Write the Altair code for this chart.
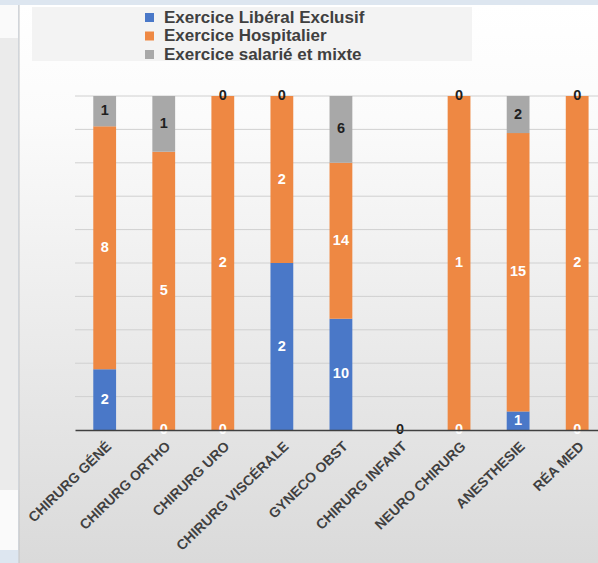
import altair as alt
import pandas as pd

# Spécialités et effectifs par mode d'exercice
specialites = ["CHIRURG GÉNÉ", "CHIRURG ORTHO", "CHIRURG URO", "CHIRURG VISCÉRALE",
               "GYNECO OBST", "CHIRURG INFANT", "NEURO CHIRURG", "ANESTHESIE", "RÉA MED"]
series = ["Exercice Libéral Exclusif", "Exercice Hospitalier", "Exercice salarié et mixte"]
liberal = [2, 0, 0, 2, 10, 0, 0, 1, 0]
hospitalier = [8, 5, 2, 2, 14, 0, 1, 15, 2]
salarie = [1, 1, 0, 0, 6, 0, 0, 2, 0]
couleurs = ["#4a78c8", "#ee8843", "#a8a8a8"]
couleurs_texte = ["#ffffff", "#ffffff", "#1f1f1f"]
graduations = [0.1, 0.2, 0.3, 0.4, 0.5, 0.6, 0.7, 0.8, 0.9, 1.0]

# Empilement à 100 % calculé par spécialité
lignes = []
for i, spec in enumerate(specialites):
    vals = [liberal[i], hospitalier[i], salarie[i]]
    total = sum(vals)
    base = 0.0
    for k, (s, v) in enumerate(zip(series, vals)):
        part = v / total if total else 0.0
        lignes.append(dict(spec=spec, serie=s, valeur=v, y0=base, y1=base + part,
                           mid=base + part / 2, tc=couleurs_texte[k]))
        base += part
df = pd.DataFrame(lignes)
grille = pd.DataFrame({"g": graduations})
un = pd.DataFrame({"k": [0]})

W, H = 523, 334
FONT = "Liberation Sans"

x_enc = alt.X(
    "spec:N", sort=specialites,
    scale=alt.Scale(domain=specialites, paddingInner=0.614, paddingOuter=0.2345, align=0.66),
    axis=alt.Axis(title=None, labelAngle=-44, labelFontSize=14, labelFontWeight="bold",
                  labelColor="#404040", labelFont=FONT, ticks=False, domainColor="#404040",
                  domainWidth=1.5, labelPadding=9, grid=False, zindex=1, labelLimit=300),
)
y_scale = alt.Scale(domain=[0, 1])

# Fond du panneau et éléments de décor
fond_panneau = alt.Chart(un).mark_rect(
    fill=alt.Gradient(gradient="linear", x1=0, x2=0, y1=0, y2=1,
                      stops=[alt.GradientStop(color="#ffffff", offset=0),
                             alt.GradientStop(color="#fbfbfb", offset=0.2),
                             alt.GradientStop(color="#dadada", offset=1)])
).encode(x=alt.value(-56), x2=alt.value(W), y=alt.value(-91), y2=alt.value(H + 133))

bord_panneau = alt.Chart(un).mark_rule(color="#c4c4c4", strokeWidth=1).encode(
    x=alt.value(-56), y=alt.value(-91), y2=alt.value(H + 133))

bande_gauche = alt.Chart(un).mark_rect(fill="#fafafa").encode(
    x=alt.value(-75), x2=alt.value(-57), y=alt.value(-91), y2=alt.value(454))
bande_grise = alt.Chart(un).mark_rect(fill="#ebebeb").encode(
    x=alt.value(-75), x2=alt.value(-57), y=alt.value(-58), y2=alt.value(394))

cadre_legende = alt.Chart(un).mark_rect(fill="#f3f3f3").encode(
    x=alt.value(-43), x2=alt.value(397), y=alt.value(-89), y2=alt.value(-35))

lignes_grille = alt.Chart(grille).mark_rule(color="#d0d0d0", strokeWidth=1).encode(
    y=alt.Y("g:Q", scale=y_scale, axis=None))

barres = alt.Chart(df).mark_bar().encode(
    x=x_enc,
    y=alt.Y("y0:Q", scale=y_scale, axis=None),
    y2="y1:Q",
    color=alt.Color(
        "serie:N", scale=alt.Scale(domain=series, range=couleurs),
        legend=alt.Legend(title=None, orient="none", legendX=66, legendY=-87,
                          symbolType="square", symbolSize=81, symbolStrokeWidth=0,
                          labelFontSize=17, labelFontWeight="bold", labelColor="#404040",
                          labelFont=FONT, labelOffset=6, rowPadding=0.5, padding=0,
                          labelLimit=400)),
)

etiquettes = alt.Chart(df).mark_text(
    fontSize=14.5, fontWeight="bold", font=FONT, baseline="middle", align="center"
).encode(
    x=x_enc,
    y=alt.Y("mid:Q", scale=y_scale, axis=None),
    text="valeur:Q",
    fill=alt.Fill("tc:N", scale=None, legend=None),
)

chart = alt.layer(
    fond_panneau, bande_gauche, bande_grise, bord_panneau, cadre_legende,
    lignes_grille, barres, etiquettes
).properties(
    width=W, height=H,
    autosize=alt.AutoSizeParams(type="none"),
    padding={"left": 75, "top": 96, "right": 0, "bottom": 133},
    background="#dde6f0",
).configure_view(stroke=None)

chart.save("out.html", embed_options={"renderer": "svg", "actions": False})
